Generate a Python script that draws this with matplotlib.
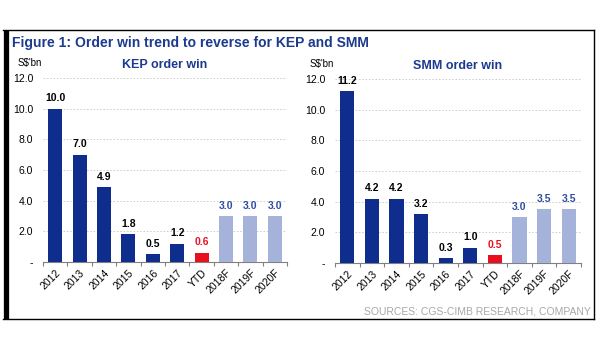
import matplotlib
matplotlib.use("Agg")
import matplotlib.pyplot as plt
from matplotlib.lines import Line2D

plt.rcParams["font.family"] = ["Liberation Sans", "DejaVu Sans"]

categories = ["2012", "2013", "2014", "2015", "2016", "2017", "YTD", "2018F", "2019F", "2020F"]
kep_values = [10.0, 7.0, 4.9, 1.8, 0.5, 1.2, 0.6, 3.0, 3.0, 3.0]
smm_values = [11.2, 4.2, 4.2, 3.2, 0.3, 1.0, 0.5, 3.0, 3.5, 3.5]
kinds = ["hist"] * 6 + ["ytd"] + ["fcst"] * 3

yticks = [0, 2, 4, 6, 8, 10, 12]
ytick_labels = ["-", "2.0", "4.0", "6.0", "8.0", "10.0", "12.0"]

NAVY = "#0F2D8C"
LIGHT = "#A5B3DA"
RED = "#E8101E"
BLUE_TXT = "#2E4C9E"
TITLE_BLUE = "#1C3A8E"

bar_colors = {"hist": NAVY, "ytd": RED, "fcst": LIGHT}
label_colors = {"hist": "black", "ytd": RED, "fcst": BLUE_TXT}

fig = plt.figure(figsize=(6, 3.6), dpi=100)
fig.patch.set_facecolor("white")

# frame around the figure
fig.add_artist(Line2D([3 / 600, 594 / 600], [1 - 29.5 / 360] * 2, color="black", lw=1.0,
                      transform=fig.transFigure))
fig.add_artist(Line2D([3 / 600, 594 / 600], [1 - 319 / 360] * 2, color="black", lw=1.0,
                      transform=fig.transFigure))
fig.add_artist(Line2D([594 / 600] * 2, [1 - 29.5 / 360, 1 - 319 / 360], color="black", lw=1.0,
                      transform=fig.transFigure))
fig.add_artist(Line2D([5.5 / 600] * 2, [1 - 29.5 / 360, 1 - 319 / 360], color="black", lw=3.8,
                      transform=fig.transFigure, solid_capstyle="butt"))

fig.text(12 / 600, 1 - 47 / 360, "Figure 1: Order win trend to reverse for KEP and SMM",
         fontsize=10, fontweight="bold", color=TITLE_BLUE, ha="left", va="baseline")


def draw_panel(rect, values, title):
    ax = fig.add_axes(rect)
    x = range(len(categories))
    ax.bar(x, values, width=0.58, color=[bar_colors[k] for k in kinds], zorder=3)
    for xi, v, k in zip(x, values, kinds):
        ax.text(xi, v + 0.35, f"{v:.1f}", ha="center", va="bottom", fontsize=7.5,
                fontweight="bold", color=label_colors[k])
    ax.set_xlim(-0.5, len(categories) - 0.5)
    ax.set_ylim(0, 12)
    ax.set_yticks(yticks)
    ax.set_yticklabels(ytick_labels, fontsize=7.5)
    for y in yticks[1:]:
        ax.axhline(y, color="#C8C8C8", lw=0.6, ls=(0, (2, 2)), zorder=1)
    ax.set_xticks([i + 0.5 for i in range(-1, len(categories))], minor=False)
    ax.set_xticklabels([""] * (len(categories) + 1))
    ax.set_xticks(list(x), minor=True)
    ax.set_xticklabels(categories, minor=True, rotation=45, ha="right",
                       rotation_mode="anchor", fontsize=7.5)
    ax.tick_params(axis="x", which="minor", length=0, pad=4)
    ax.tick_params(axis="x", which="major", length=3, color="#808080", width=0.8)
    ax.tick_params(axis="y", length=0, pad=7)
    for s in ["top", "right", "left"]:
        ax.spines[s].set_visible(False)
    ax.spines["bottom"].set_color("#808080")
    ax.spines["bottom"].set_linewidth(0.8)
    ax.set_title(title, fontsize=9, fontweight="bold", color=TITLE_BLUE, pad=7)
    ax.text(-0.105, 1.055, "S$'bn", transform=ax.transAxes, fontsize=7, ha="left", va="bottom")
    return ax


draw_panel([43 / 600, 1 - 262 / 360, 244 / 600, 184 / 360], kep_values, "KEP order win")
draw_panel([335 / 600, 1 - 263 / 360, 246 / 600, 184 / 360], smm_values, "SMM order win")

fig.text(591 / 600, 1 - 315 / 360, "SOURCES: CGS-CIMB RESEARCH, COMPANY", fontsize=7.5,
         color="#A8A8A8", ha="right", va="baseline")

fig.savefig("out.png", dpi=100, facecolor="white")
